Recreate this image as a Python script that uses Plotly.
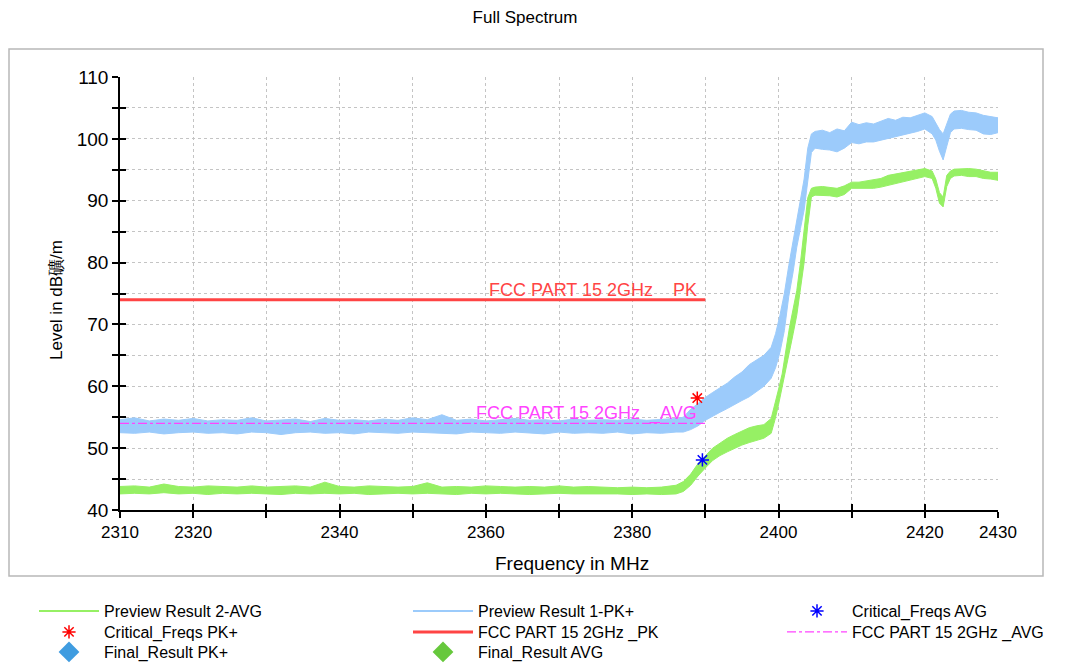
import plotly.graph_objects as go

# ---------------- data ----------------
pk_freq = [2310, 2312, 2314, 2316, 2318, 2320, 2322, 2324, 2326, 2328, 2330, 2332, 2334, 2336, 2338,
           2340, 2342, 2344, 2346, 2348, 2350, 2352, 2354, 2356, 2358, 2360, 2362, 2364, 2366, 2368,
           2370, 2372, 2374, 2376, 2378, 2380, 2382, 2384, 2386,
           2387, 2388, 2389, 2390, 2391, 2392, 2393, 2394, 2395, 2396, 2397, 2398, 2399,
           2399.6, 2400.2, 2400.8, 2401.4, 2402, 2402.5, 2403, 2403.5, 2404, 2404.5,
           2405, 2406, 2407, 2408, 2409, 2410, 2411, 2412, 2413, 2414, 2415, 2416, 2417, 2418, 2419, 2420, 2421,
           2421.5, 2422, 2422.5, 2423, 2423.5,
           2424, 2425, 2426, 2427, 2428, 2429, 2430]
pk_high = [54.6, 54.9, 54.4, 54.7, 54.5, 54.8, 54.4, 54.6, 54.5, 54.9, 54.4, 54.6, 54.7, 54.3, 54.8,
           54.5, 54.6, 54.4, 54.7, 54.5, 54.9, 54.6, 55.4, 54.5, 54.7, 54.4, 54.6, 54.8, 54.5, 54.6,
           54.4, 54.7, 54.5, 54.6, 54.5, 54.7, 54.5, 54.6, 54.8,
           55.0, 56.3, 57.2, 58.2, 59.0, 59.8, 60.5, 61.5, 62.3, 63.5, 64.2, 65.0, 66.3,
           68.5, 71.5, 75.0, 79.5, 83.5, 87.0, 90.0, 93.5, 98.5, 100.8,
           101.2, 101.4, 101.0, 101.6, 101.3, 102.7, 102.3, 102.6, 102.4, 102.9, 103.3, 103.0, 103.5, 103.4, 103.8, 104.2, 103.6,
           102.5, 101.5, 100.8, 102.5, 104.0,
           104.5, 104.6, 104.3, 104.2, 103.8, 103.6, 103.4]
pk_low = [52.5, 52.4, 52.6, 52.3, 52.5, 52.6, 52.4, 52.5, 52.3, 52.6, 52.5, 52.2, 52.5, 52.6, 52.4,
          52.5, 52.3, 52.6, 52.5, 52.4, 52.6, 52.5, 52.4, 52.3, 52.6, 52.5, 52.4, 52.6, 52.5, 52.3,
          52.6, 52.4, 52.5, 52.4, 52.6, 52.3, 52.5, 52.4, 52.6,
          52.6, 53.0, 53.6, 54.5, 55.2, 55.8, 56.4, 57.0, 57.7, 58.3, 59.2, 60.0, 61.3,
          63.0, 65.5, 69.0, 74.5, 78.5, 82.5, 85.5, 88.5, 93.5, 97.8,
          98.5, 98.3, 98.2, 97.9, 98.5, 99.4, 99.2, 99.5, 99.5, 99.8, 100.0, 100.3, 100.7, 100.9, 101.2, 101.6, 100.8,
          99.8, 98.0, 96.6, 98.8, 101.0,
          101.6, 101.7, 101.5, 101.4, 100.8, 100.7, 101.0]

av_freq = [2310, 2312, 2314, 2316, 2318, 2320, 2322, 2324, 2326, 2328, 2330, 2332, 2334, 2336, 2338,
           2340, 2342, 2344, 2346, 2348, 2350, 2352, 2354, 2356, 2358, 2360, 2362, 2364, 2366, 2368,
           2370, 2372, 2374, 2376, 2378, 2380, 2382, 2384,
           2385, 2386, 2387, 2388, 2389, 2390, 2391, 2392, 2393, 2394, 2395, 2396, 2397, 2398, 2399,
           2399.5, 2400, 2400.5, 2401, 2401.5, 2402, 2402.5, 2403, 2403.5, 2404, 2404.5,
           2405, 2406, 2407, 2408, 2409, 2410, 2411, 2412, 2413, 2414, 2415, 2416, 2417, 2418, 2419, 2420, 2421,
           2421.5, 2422, 2422.5, 2423, 2423.5,
           2424, 2425, 2426, 2427, 2428, 2429, 2430]
av_high = [43.8, 43.9, 43.7, 44.2, 43.8, 43.7, 43.9, 43.8, 43.7, 43.9, 43.7, 43.8, 43.9, 43.7, 44.5,
           43.8, 43.7, 43.9, 43.8, 43.7, 43.8, 44.4, 43.7, 43.8, 43.7, 43.9, 43.8, 43.7, 43.8, 43.7,
           43.9, 43.7, 43.8, 43.7, 43.6, 43.7, 43.6, 43.7,
           43.8, 44.0, 44.6, 45.8, 47.5, 48.8, 50.0, 50.8, 51.6, 52.2, 52.8, 53.3, 53.6, 53.8, 54.8,
           57.0, 59.5, 62.0, 66.0, 69.5, 72.5, 75.5, 80.0, 85.5, 90.5, 92.0,
           92.2, 92.3, 92.1, 92.0, 92.4, 93.0, 93.0, 93.2, 93.3, 93.6, 94.1, 94.3, 94.6, 94.8, 95.0, 95.2, 94.8,
           93.5, 91.3, 90.6, 94.1, 94.8,
           95.1, 95.2, 95.2, 95.1, 94.8, 94.6, 94.6]
av_low = [42.6, 42.7, 42.6, 42.8, 42.6, 42.7, 42.5, 42.7, 42.6, 42.7, 42.6, 42.5, 42.7, 42.6, 42.7,
          42.6, 42.7, 42.5, 42.6, 42.7, 42.6, 42.7, 42.6, 42.5, 42.7, 42.6, 42.7, 42.6, 42.5, 42.6,
          42.7, 42.6, 42.5, 42.6, 42.6, 42.5, 42.6, 42.5,
          42.5, 42.6, 43.0, 44.0, 45.5, 46.8, 48.0, 48.8, 49.4, 50.0, 50.5, 50.9, 51.3, 51.6, 52.4,
          54.5, 57.0, 59.5, 62.5, 65.5, 68.5, 71.5, 75.5, 80.0, 86.0, 90.6,
          90.9, 90.9, 90.8, 90.6, 91.0, 92.0, 91.9, 92.0, 92.0, 92.2, 92.5, 92.8, 93.1, 93.3, 93.6, 93.9, 93.6,
          92.0, 89.6, 89.0, 92.3, 93.6,
          94.0, 94.1, 93.9, 93.9, 93.6, 93.5, 93.3]

limit_freq = [2310, 2390]
pk_limit = [74, 74]
avg_limit = [54, 54]

crit_pk_freq = [2388.9]
crit_pk_level = [58.1]
crit_av_freq = [2389.6]
crit_av_level = [48.1]

x_tick_vals = [2310, 2320, 2330, 2340, 2350, 2360, 2370, 2380, 2390, 2400, 2410, 2420, 2430]
x_tick_text = ["2310", "2320", "", "2340", "", "2360", "", "2380", "", "2400", "", "2420", "2430"]
y_tick_vals = [40, 45, 50, 55, 60, 65, 70, 75, 80, 85, 90, 95, 100, 105, 110]
y_tick_text = ["40", "", "50", "", "60", "", "70", "", "80", "", "90", "", "100", "", "110"]

# ---------------- style / geometry ----------------
FONT = "Liberation Sans, Arial, sans-serif"
GREEN = "#96f064"
BLUE = "#9ccbfb"
RED = "#ff4444"
MAGENTA = "#ff44ff"

OFF = 8                                   # page body margin
W, H = 1080 - OFF, 664 - OFF
# plot area in reference (page) pixels
RL, RR, RT, RB = 120, 998, 77, 510
PL, PR, PT, PB = RL - OFF, RR - OFF, RT - OFF, RB - OFF
PW, PH = PR - PL, PB - PT


def px_x(p):  # reference page pixel -> paper x
    return (p - OFF - PL) / PW


def px_y(p):  # reference page pixel -> paper y
    return (PB - (p - OFF)) / PH


fig = go.Figure()

# noise bands (upper envelope forward, lower envelope back)
fig.add_trace(go.Scatter(x=pk_freq + pk_freq[::-1], y=pk_high + pk_low[::-1],
                         fill="toself", fillcolor=BLUE, mode="lines",
                         line=dict(color=BLUE, width=1), showlegend=False, hoverinfo="skip"))
fig.add_trace(go.Scatter(x=av_freq + av_freq[::-1], y=av_high + av_low[::-1],
                         fill="toself", fillcolor=GREEN, mode="lines",
                         line=dict(color=GREEN, width=1), showlegend=False, hoverinfo="skip"))

# legend entries for the preview traces
fig.add_trace(go.Scatter(x=[None], y=[None], mode="lines", name="Preview Result 2-AVG",
                         line=dict(color=GREEN, width=2), legend="legend"))
fig.add_trace(go.Scatter(x=[None], y=[None], mode="lines", name="Preview Result 1-PK+",
                         line=dict(color=BLUE, width=2), legend="legend2"))

# limit lines
fig.add_trace(go.Scatter(x=limit_freq, y=avg_limit, mode="lines", name="FCC PART 15 2GHz _AVG",
                         line=dict(color=MAGENTA, width=1.2, dash="dashdot"), legend="legend6"))
fig.add_trace(go.Scatter(x=limit_freq, y=pk_limit, mode="lines", name="FCC PART 15 2GHz _PK",
                         line=dict(color=RED, width=3), legend="legend5"))

# critical frequencies
fig.add_trace(go.Scatter(x=crit_av_freq, y=crit_av_level, mode="markers", name="Critical_Freqs AVG",
                         marker=dict(symbol="asterisk-open", size=11, color="#0000ff",
                                     line=dict(color="#0000ff", width=1.5)), legend="legend3"))
fig.add_trace(go.Scatter(x=crit_pk_freq, y=crit_pk_level, mode="markers", name="Critical_Freqs PK+",
                         marker=dict(symbol="asterisk-open", size=11, color="#ff0000",
                                     line=dict(color="#ff0000", width=1.5)), legend="legend4"))

# final results (no points in the plotted range)
fig.add_trace(go.Scatter(x=[None], y=[None], mode="markers", name="Final_Result PK+",
                         marker=dict(symbol="diamond", size=16, color="#3f9ce0"), legend="legend7"))
fig.add_trace(go.Scatter(x=[None], y=[None], mode="markers", name="Final_Result AVG",
                         marker=dict(symbol="diamond", size=16, color="#66c83c"), legend="legend8"))

# cross ticks: second axes with inside ticks
fig.add_trace(go.Scatter(x=[None], y=[None], xaxis="x2", yaxis="y2", showlegend=False, hoverinfo="skip"))

# limit labels
fig.add_annotation(x=2389.2, y=74, xref="x", yref="y", text="FCC PART 15 2GHz  _PK",
                   showarrow=False, xanchor="right", yanchor="bottom", yshift=-3,
                   font=dict(family=FONT, size=18, color=RED))
fig.add_annotation(x=2389.2, y=54, xref="x", yref="y", text="FCC PART 15 2GHz  _AVG",
                   showarrow=False, xanchor="right", yanchor="bottom", yshift=-3,
                   font=dict(family=FONT, size=18, color=MAGENTA))

# axis titles
fig.add_annotation(x=px_x(572), y=px_y(563), xref="paper", yref="paper",
                   text="Frequency in MHz", showarrow=False, xanchor="center", yanchor="middle",
                   font=dict(family=FONT, size=19, color="black"))
fig.add_annotation(x=px_x(56), y=px_y(300), xref="paper", yref="paper",
                   text="Level in dB礦/m", showarrow=False, textangle=-90,
                   xanchor="center", yanchor="middle",
                   font=dict(family=FONT, size=17, color="black"))

# outer frame
fig.add_shape(type="rect", xref="paper", yref="paper",
              x0=px_x(9), x1=px_x(1043), y0=px_y(576), y1=px_y(49),
              line=dict(color="#b8b8b8", width=1.5), fillcolor="rgba(0,0,0,0)", layer="below")

grid = dict(showgrid=True, gridcolor="#c4c4c4", gridwidth=1, griddash="dot")

# legend slots: (legend id, text-left page x, row-centre page y)
TEXT_OFFSET = 70
legend_slots = [("legend", 104, 611), ("legend2", 478, 611), ("legend3", 852, 611),
                ("legend4", 104, 632), ("legend5", 478, 632), ("legend6", 852, 632),
                ("legend7", 104, 652), ("legend8", 478, 652)]
legend_layout = {}
for lid, tx, ty in legend_slots:
    legend_layout[lid] = dict(x=px_x(tx - TEXT_OFFSET), xanchor="left", y=px_y(ty), yanchor="middle",
                              itemwidth=60, font=dict(family=FONT, size=16, color="black"),
                              bgcolor="rgba(0,0,0,0)")

fig.update_layout(
    width=W, height=H,
    margin=dict(l=PL, r=W - PR, t=PT, b=H - PB, autoexpand=False),
    paper_bgcolor="white", plot_bgcolor="white",
    font=dict(family=FONT, color="black"),
    title=dict(text="Full Spectrum", x=(525 - OFF) / W, xanchor="center", y=1 - (17 - OFF) / H,
               yanchor="middle", font=dict(family=FONT, size=17, color="black")),
    xaxis=dict(range=[2310, 2430], tickvals=x_tick_vals, ticktext=x_tick_text,
               ticks="outside", ticklen=6, tickwidth=1.5, tickcolor="black",
               showline=True, linecolor="black", linewidth=1.5, zeroline=False,
               tickfont=dict(family=FONT, size=17), **grid),
    yaxis=dict(range=[40, 110], tickvals=y_tick_vals, ticktext=y_tick_text,
               ticks="outside", ticklen=6, tickwidth=1.5, tickcolor="black",
               showline=True, linecolor="black", linewidth=1.5, zeroline=False,
               tickfont=dict(family=FONT, size=19), **grid),
    xaxis2=dict(range=[2310, 2430], overlaying="x", anchor="y2", tickvals=x_tick_vals,
                ticks="inside", ticklen=6, tickwidth=1.5, tickcolor="black",
                showticklabels=False, showgrid=False, showline=False, zeroline=False),
    yaxis2=dict(range=[40, 110], overlaying="y", anchor="x2", tickvals=y_tick_vals,
                ticks="inside", ticklen=6, tickwidth=1.5, tickcolor="black",
                showticklabels=False, showgrid=False, showline=False, zeroline=False),
    showlegend=True,
    **legend_layout,
)

fig.write_html("out.html")
